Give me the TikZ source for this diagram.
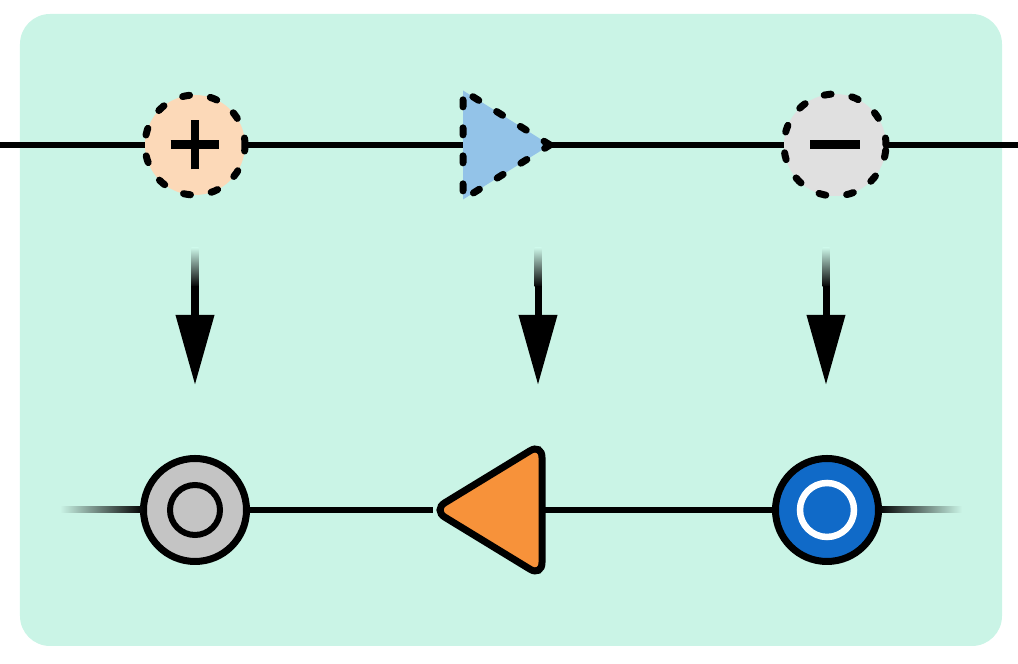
\documentclass[tikz,border=0pt]{standalone}
\usepackage{tikz}
\usetikzlibrary{shapes.geometric,arrows.meta}
\definecolor{mintbg}{RGB}{202,244,230}
\definecolor{peach}{RGB}{252,217,184}
\definecolor{skyfill}{RGB}{147,195,232}
\definecolor{greyfill}{RGB}{224,224,224}
\definecolor{midgrey}{RGB}{196,196,196}
\definecolor{orangefill}{RGB}{247,146,58}
\definecolor{bluefill}{RGB}{16,106,200}

\begin{document}
\begin{tikzpicture}
  \tikzstyle{every node}=[inner sep=0pt, outer sep=0pt]
  \tikzstyle{wire}=[line width=0.06cm]
  \tikzstyle{ghost}=[draw, line width=0.07cm, line cap=round, dash pattern=on 0.07cm off 0.21cm]
  \tikzstyle{token}=[draw, line width=0.07cm]
  \tikzstyle{sign}=[line width=0.09cm]
  \tikzstyle{drop}=[line width=0.07cm, -{Triangle[length=0.7cm,width=0.37cm]}]

  \useasboundingbox (0,0) rectangle (10.18,6.64);
  \fill[mintbg, rounded corners=0.3cm] (0.20,0.18) rectangle (10.02,6.50);

  % top row
  \node[ghost, circle, fill=peach, minimum size=1.0cm] (plus) at (1.95,5.19) {};
  \node[ghost, isosceles triangle, isosceles triangle stretches, fill=skyfill,
        minimum height=0.87cm, minimum width=1.09cm, anchor=apex] (push) at (5.50,5.19) {};
  \node[ghost, circle, fill=greyfill, minimum size=1.02cm] (minus) at (8.35,5.19) {};
  \coordinate (topin) at (0,5.19);
  \coordinate (topout) at (10.18,5.19);
  \draw[wire] (topin) -- (plus) (plus) -- (push) (push) -- (minus) (minus) -- (topout);
  \draw[sign] ([xshift=-0.245cm]plus.center) -- ([xshift=0.245cm]plus.center);
  \draw[sign] ([yshift=-0.245cm]plus.center) -- ([yshift=0.245cm]plus.center);
  \draw[sign] ([xshift=-0.25cm]minus.center) -- ([xshift=0.25cm]minus.center);

  % arrows down
  \coordinate (p1) at (1.95,4.16);
  \coordinate (q1) at (1.95,2.79);
  \coordinate (p2) at (5.38,4.16);
  \coordinate (q2) at (5.38,2.79);
  \coordinate (p3) at (8.26,4.16);
  \coordinate (q3) at (8.26,2.79);
  \shade[top color=mintbg, bottom color=black] ([xshift=-0.035cm]p1) rectangle ([xshift=0.035cm,yshift=-0.39cm]p1);
  \draw[drop] ([yshift=-0.38cm]p1) -- (q1);
  \shade[top color=mintbg, bottom color=black] ([xshift=-0.035cm]p2) rectangle ([xshift=0.035cm,yshift=-0.39cm]p2);
  \draw[drop] ([yshift=-0.38cm]p2) -- (q2);
  \shade[top color=mintbg, bottom color=black] ([xshift=-0.035cm]p3) rectangle ([xshift=0.035cm,yshift=-0.39cm]p3);
  \draw[drop] ([yshift=-0.38cm]p3) -- (q3);

  % bottom row
  \node[token, circle, fill=midgrey, minimum size=1.03cm] (hold) at (1.95,1.54) {};
  \node[token, isosceles triangle, isosceles triangle stretches, shape border rotate=180,
        fill=orangefill, rounded corners=0.14cm, minimum height=1.09cm, minimum width=1.33cm,
        anchor=apex] (pop) at (4.33,1.54) {};
  \node[token, circle, fill=bluefill, minimum size=1.03cm] (done) at (8.27,1.54) {};
  \draw[line width=0.06cm] (hold.center) circle (0.25cm);
  \draw[white, line width=0.065cm] (done.center) circle (0.27cm);
  \draw[wire] (hold) -- (pop) (pop) -- (done);
  \coordinate (botin) at (0.60,1.54);
  \coordinate (botout) at (9.62,1.54);
  \shade[left color=mintbg, right color=black] ([yshift=-0.03cm]botin) rectangle ([yshift=0.03cm]hold.west);
  \shade[left color=black, right color=mintbg] ([yshift=-0.03cm]done.east) rectangle ([yshift=0.03cm]botout);
\end{tikzpicture}
\end{document}
